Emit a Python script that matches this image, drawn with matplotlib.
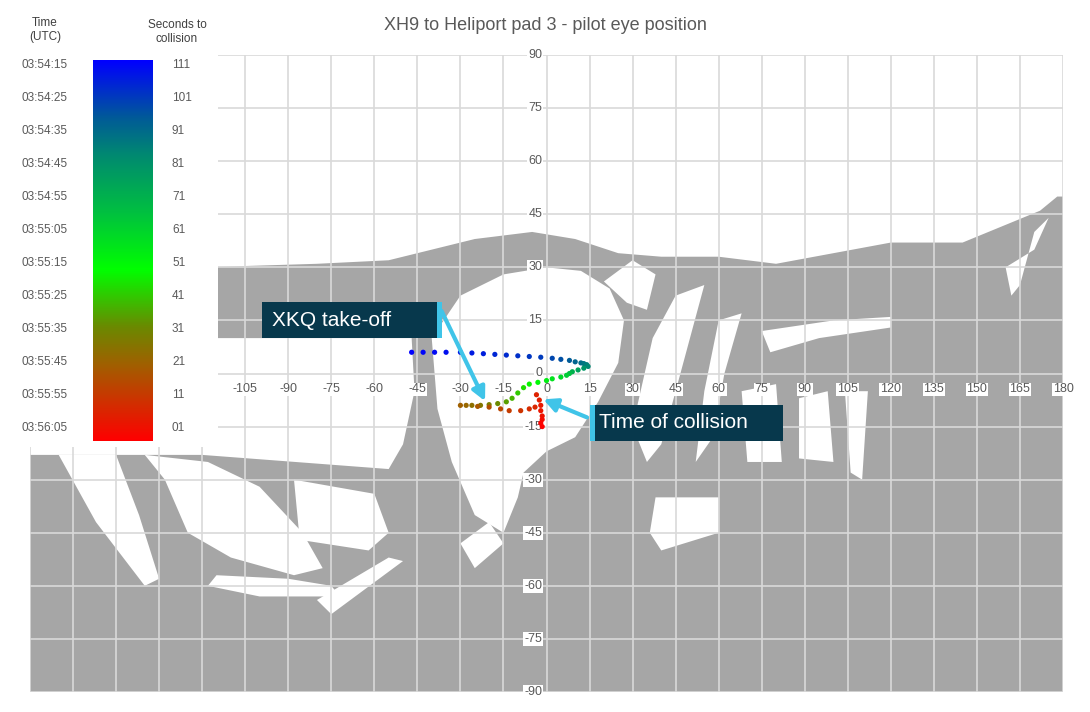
import numpy as np
import matplotlib
matplotlib.use("Agg")
import matplotlib.pyplot as plt
from matplotlib.colors import LinearSegmentedColormap
from matplotlib.patches import Polygon, Rectangle

# ---------------- data ----------------
pos_x = [-47, -43, -39, -35, -30, -26, -22, -18, -14, -10, -6, -2, 2, 5, 8, 10, 12, 13, 14, 14.5,
         13, 11, 9, 8,
         7, 5, 2, 0, -3, -6, -8, -10, -12, -14, -17,
         -20, -23, -26, -28, -30,
         -24, -20, -16, -13, -9, -6, -4,
         -3.5, -2.5, -2, -2, -1.5, -1.5, -2, -1.5]
pos_y = [6, 6, 6, 6, 6, 5.8, 5.6, 5.4, 5.2, 5, 4.8, 4.6, 4.3, 4, 3.7, 3.3, 3, 2.8, 2.5, 2,
         1.5, 1, 0.5, 0,
         -0.5, -1, -1.5, -2, -2.5, -3, -4, -5.5, -7, -8, -8.5,
         -8.8, -9, -9, -9, -9,
         -9.3, -9.5, -10, -10.5, -10.5, -10, -9.5,
         -6, -7.5, -9, -10.5, -12, -13, -14, -15]
secs = [111, 110, 109, 108, 107, 106, 105, 104, 103, 102, 101, 100, 98, 96, 94, 92, 90, 88, 86, 84,
        80, 76, 72, 68,
        64, 61, 58, 55, 52, 49, 46, 43, 40, 37, 34,
        31, 29, 27, 25, 23,
        21, 19, 17, 15, 13, 11, 10,
        9, 8, 7, 6, 5, 4, 2, 1]
x_ticks = [-105, -90, -75, -60, -45, -30, -15, 0, 15, 30, 45, 60, 75, 90, 105, 120, 135, 150, 165, 180]
y_ticks = [90, 75, 60, 45, 30, 15, 0, -15, -30, -45, -60, -75, -90]
time_labels = ["03:54:15", "03:54:25", "03:54:35", "03:54:45", "03:54:55", "03:55:05", "03:55:15",
               "03:55:25", "03:55:35", "03:55:45", "03:55:55", "03:56:05"]
sec_labels = ["111", "101", "91", "81", "71", "61", "51", "41", "31", "21", "11", "01"]

# cockpit silhouette (background decoration, data units)
grey_outline = [(-180, -23), (-120, -23), (-120, 30), (-80, 31), (-55, 32), (-40, 35), (-25, 38), (-5, 40),
                (10, 38), (25, 34), (40, 33), (60, 33), (80, 31), (100, 34), (120, 37), (145, 37),
                (160, 42), (172, 46), (178, 50), (180, 50), (180, -90), (-180, -90)]
white_windows = [
    [(-120, 10), (-47, 10), (-46, -5), (-50, -20), (-55, -27), (-120, -23)],
    [(-40, 10), (-30, 22), (-15, 28), (0, 30), (12, 29), (22, 24), (27, 15), (25, 3), (18, -8),
     (10, -18), (0, -22), (-8, -28), (-10, -35), (-15, -45), (-25, -40), (-33, -25), (-38, -10)],
    [(-170, -23), (-150, -23), (-142, -40), (-135, -58), (-140, -60), (-157, -42)],
    [(-140, -23), (-118, -25), (-100, -32), (-85, -45), (-78, -55), (-88, -57), (-110, -52),
     (-125, -45), (-133, -30)],
    [(-88, -30), (-60, -34), (-55, -45), (-62, -50), (-86, -47)],
    [(-115, -57), (-90, -58), (-75, -60), (-72, -63), (-100, -63), (-118, -60)],
    [(-80, -64), (-55, -52), (-50, -53), (-75, -68)],
    [(-30, -48), (-20, -42), (-15, -48), (-25, -55)],
    [(37, 10), (45, 22), (55, 25), (50, 10), (45, -5), (40, -20), (35, -25), (30, -15)],
    [(60, 15), (68, 17), (62, 0), (58, -18), (52, -25), (55, -5)],
    [(75, 12), (100, 15), (120, 16), (120, 13), (95, 10), (78, 6)],
    [(68, -5), (80, -3), (82, -25), (70, -25)],
    [(88, -7), (98, -5), (100, -25), (88, -24)],
    [(104, -5), (112, -5), (110, -30), (106, -28)],
    [(38, -35), (60, -35), (60, -45), (40, -50), (36, -45)],
    [(20, 26), (30, 32), (38, 28), (35, 18), (28, 20)],
    [(160, 30), (170, 35), (175, 44), (170, 40), (165, 25), (162, 22)],
]

cmap = LinearSegmentedColormap.from_list(
    "trk", [(0, "#ff0000"), (0.1, "#d03000"), (0.2, "#a06000"), (0.3, "#6a8a00"),
            (0.45, "#00ff00"), (0.6, "#00c040"), (0.75, "#008a70"), (0.85, "#005a98"),
            (1.0, "#0000ff")])

# ---------------- figure ----------------
W, H = 1090, 712
fig = plt.figure(figsize=(W / 100, H / 100), dpi=100)
fig.patch.set_facecolor("white")
ax = fig.add_axes([30 / W, 1 - 692 / H, (1063 - 30) / W, (692 - 55) / H])
ax.set_xlim(-180, 180)
ax.set_ylim(-90, 90)
for s in ax.spines.values():
    s.set_visible(False)
ax.set_xticks(np.arange(-180, 181, 15))
ax.set_yticks(np.arange(-90, 91, 15))
ax.tick_params(length=0, labelbottom=False, labelleft=False)
ax.grid(True, color="#d9d9d9", lw=1.2, zorder=2)
ax.set_axisbelow(False)

ax.add_patch(Polygon(grey_outline, closed=True, fc="#a6a6a6", ec="none", zorder=0))
for w in white_windows:
    ax.add_patch(Polygon(w, closed=True, fc="white", ec="none", zorder=1))

lab_kw = dict(fontsize=9, color="#595959", family="Liberation Sans",
              bbox=dict(fc="white", ec="none", pad=0.6), zorder=4)
for t in x_ticks:
    ax.text(t, -4.5, str(t), ha="center", va="center", **lab_kw)
for t in y_ticks:
    ax.text(-1.5, t, str(t), ha="right", va="center", **lab_kw)

ax.scatter(pos_x, pos_y, c=secs, cmap=cmap, vmin=1, vmax=111, s=14, zorder=5, edgecolors="none")

# annotations
ax.annotate("", xy=(-21, -8.5), xytext=(-37, 18.4),
            arrowprops=dict(arrowstyle="-|>,head_length=0.8,head_width=0.4", color="#40c4e8", lw=3),
            zorder=6)
ax.annotate("", xy=(-2, -7), xytext=(15, -12.7),
            arrowprops=dict(arrowstyle="-|>,head_length=0.8,head_width=0.4", color="#40c4e8", lw=3),
            zorder=6)
fig.patches.append(Rectangle((262 / W, 1 - 338 / H), 178 / W, 36 / H, transform=fig.transFigure,
                             fc="#07384c", ec="none", zorder=7))
fig.patches.append(Rectangle((437 / W, 1 - 338 / H), 5 / W, 36 / H, transform=fig.transFigure,
                             fc="#40c4e8", ec="none", zorder=8))
fig.text(272 / W, 1 - 320 / H, "XKQ take-off", color="white", fontsize=15, va="center",
         family="Liberation Sans", zorder=9)
fig.patches.append(Rectangle((590 / W, 1 - 441 / H), 193 / W, 36 / H, transform=fig.transFigure,
                             fc="#07384c", ec="none", zorder=7))
fig.patches.append(Rectangle((590 / W, 1 - 441 / H), 5 / W, 36 / H, transform=fig.transFigure,
                             fc="#40c4e8", ec="none", zorder=8))
fig.text(599 / W, 1 - 423 / H, "Time of collision", color="white", fontsize=15, va="center",
         family="Liberation Sans", zorder=9)

fig.text(545 / W, 1 - 25 / H, "XH9 to Heliport pad 3 - pilot eye position", ha="center", va="center",
         fontsize=13, color="#595959", family="Liberation Sans")

# colour legend box
fig.patches.append(Rectangle((0, 1 - 447 / H), 218 / W, 447 / H, transform=fig.transFigure,
                             fc="white", ec="none", zorder=3))
cax = fig.add_axes([93 / W, 1 - 441 / H, 60 / W, 381 / H], zorder=10)
cax.imshow(np.linspace(111, 1, 256).reshape(-1, 1), aspect="auto", cmap=cmap, vmin=1, vmax=111)
cax.axis("off")
fig.add_artist(plt.Line2D([79 / W, 79 / W], [1 - 66 / H, 1 - 444 / H], color="#bfbfbf", lw=1))
fig.add_artist(plt.Line2D([165 / W, 165 / W], [1 - 64 / H, 1 - 444 / H], color="#bfbfbf", lw=1))
fig.text(45 / W, 1 - 30 / H, "Time\n(UTC)", ha="center", va="center", fontsize=8.5,
         color="#404040", family="Liberation Sans", zorder=11)
fig.text(177 / W, 1 - 32 / H, "Seconds to\ncollision", ha="center", va="center", fontsize=8.5,
         color="#404040", family="Liberation Sans", zorder=11)
ys = np.linspace(65, 428, len(time_labels))
for yp, tl, sl in zip(ys, time_labels, sec_labels):
    fig.text(45 / W, 1 - yp / H, tl, ha="center", va="center", fontsize=8.5, color="#595959",
             family="Liberation Sans", zorder=11)
    fig.text(172 / W, 1 - yp / H, sl, ha="left", va="center", fontsize=8.5, color="#595959",
             family="Liberation Sans", zorder=11)

fig.savefig("out.png", dpi=100)
